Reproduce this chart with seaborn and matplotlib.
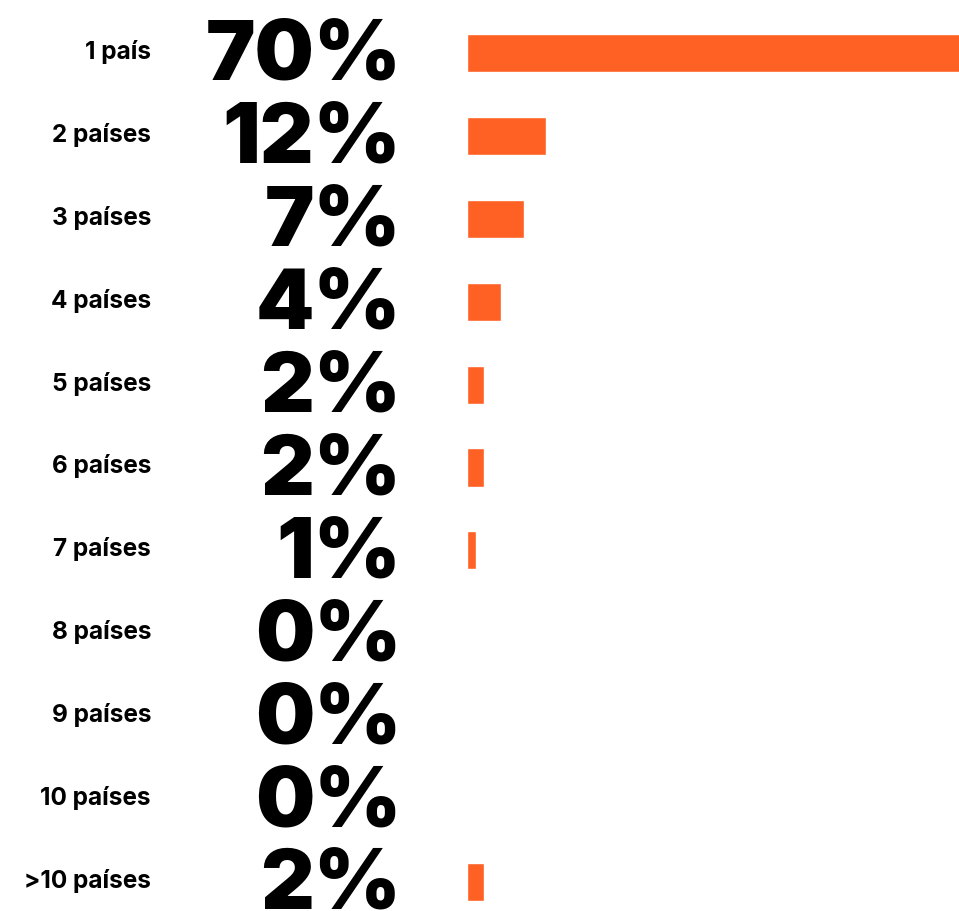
import matplotlib
matplotlib.use("Agg")
import matplotlib.pyplot as plt
import matplotlib.transforms as mtransforms
import seaborn as sns
import pandas as pd

# Data
categories = ['1 país', '2 países', '3 países', '4 países', '5 países', '6 países',
              '7 países', '8 países', '9 países', '10 países', '>10 países']
pct_labels = ['70%', '12%', '7%', '4%', '2%', '2%', '1%', '0%', '0%', '0%', '2%']
bar_values = [70, 9.4, 6.8, 4.0, 2.0, 2.0, 1.1, 0, 0, 0, 2.0]

df = pd.DataFrame({'categoria': categories, 'valor': bar_values})

sns.set_theme(style='white')
plt.rcParams['font.family'] = ['Inter', 'DejaVu Sans']

fig = plt.figure(figsize=(9.59, 9.12), dpi=100)
# axes spans bar area: x 467..959 px, 11 rows of ~82.9 px with first row centred at y=54
row = 82.9 / 912
top = (912 - 54 + 82.9 / 2) / 912
ax = fig.add_axes([467 / 959, top - 11 * row, 492 / 959, 11 * row])

sns.barplot(data=df, x='valor', y='categoria', orient='h', color='#FF6023',
            width=0.46, saturation=1, ax=ax)
ax.set_xlim(0, 492 / 8.4)
ax.set_ylim(10.5, -0.5)
ax.axis('off')

blend = mtransforms.blended_transform_factory(fig.transFigure, ax.transData)
big_tr = mtransforms.offset_copy(blend, fig=fig, x=0, y=-26, units='dots')
small_tr = mtransforms.offset_copy(blend, fig=fig, x=0, y=-5, units='dots')

for i, (cat, lab) in enumerate(zip(categories, pct_labels)):
    ax.text(151 / 959, i, cat, transform=small_tr, ha='right', va='baseline',
            fontsize=17.5, fontweight='bold', color='black')
    ax.text(401 / 959, i, lab, transform=big_tr, ha='right', va='baseline',
            fontsize=60, fontweight='black', color='black', clip_on=False)

fig.savefig('out.png', dpi=100, facecolor='white')
